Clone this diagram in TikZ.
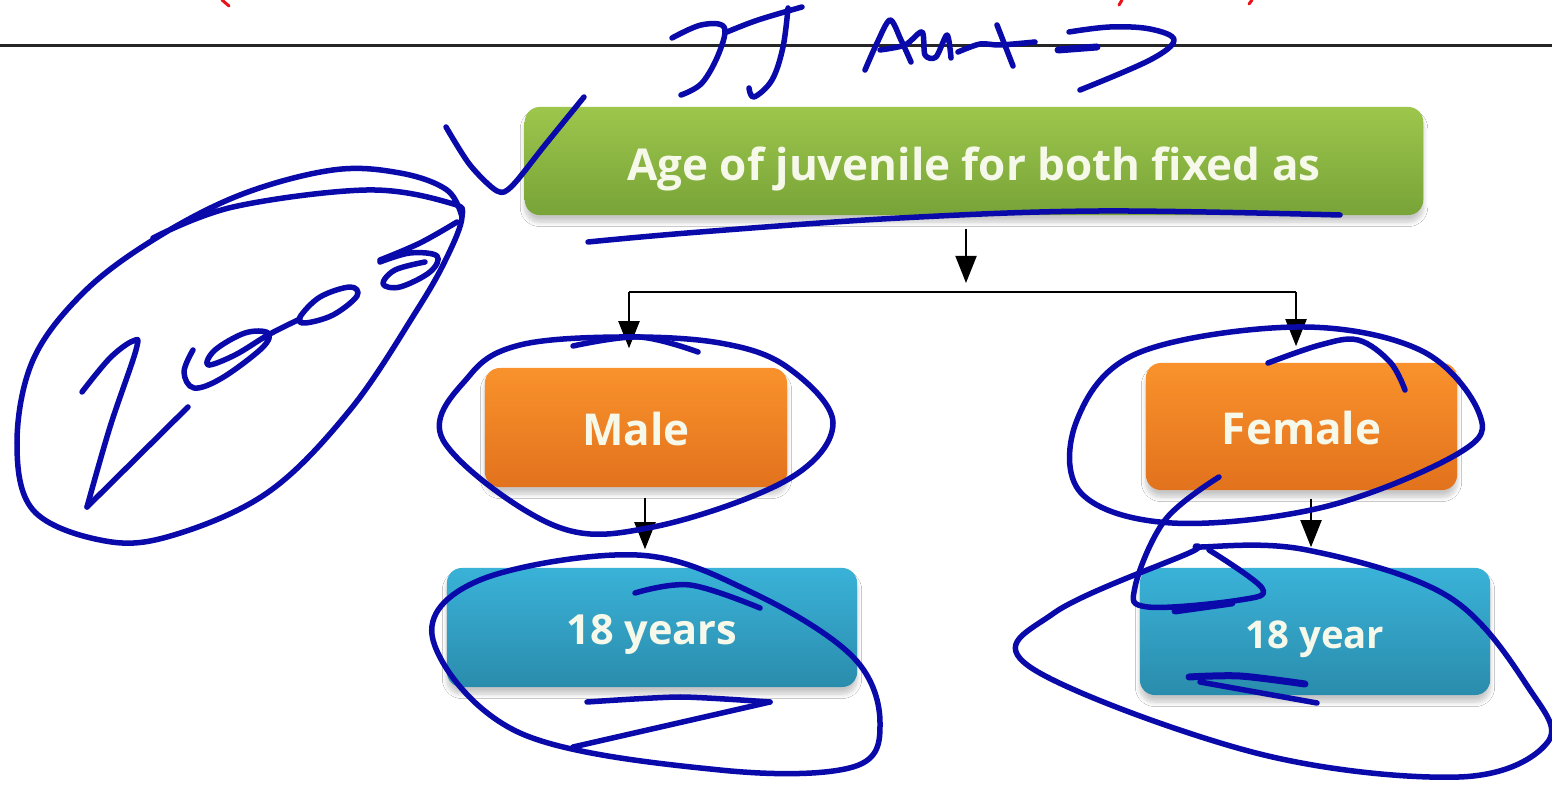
\documentclass[tikz,border=0pt]{standalone}
\usepackage{fontspec}
\setmainfont{Open Sans}
\usetikzlibrary{arrows.meta,shadows.blur}
\definecolor{ink}{HTML}{0A0AAA}
\definecolor{gtop}{HTML}{9DC64C}
\definecolor{gbot}{HTML}{78A438}
\definecolor{otop}{HTML}{F9922C}
\definecolor{obot}{HTML}{E2721D}
\definecolor{btop}{HTML}{3AB2D8}
\definecolor{bbot}{HTML}{2A8CAC}
\definecolor{txt}{HTML}{F6F8EA}
\definecolor{redink}{HTML}{E8141C}
\tikzset{
  box/.style={rounded corners=0.15cm, draw=none, text=txt, text depth=0cm,
    font=\bfseries\fontsize{12.5}{15}\selectfont,
    blur shadow={shadow xshift=0cm, shadow yshift=-0.07cm, shadow blur radius=0.045cm, shadow blur steps=10, shadow opacity=22}},
  greenbox/.style={box, top color=gtop, bottom color=gbot, text height=0.38cm},
  orangebox/.style={box, top color=otop, bottom color=obot, text height=0.36cm},
  bluebox/.style={box, top color=btop, bottom color=bbot, text height=0.34cm},
  conn/.style={line width=0.02cm, black},
  arr/.style={conn, -{Triangle[width=0.21cm,length=0.27cm]}},
  pen/.style={draw=ink, line width=0.055cm, line cap=round, line join=round},
  redpen/.style={draw=redink, line width=0.03cm, line cap=round}
}
\begin{document}
\begin{tikzpicture}[x=0.01cm,y=-0.01cm]
\useasboundingbox (0,0) rectangle (1552,789);
\fill[white] (0,0) rectangle (1552,789);

% header remnants
\draw[redpen] (222,0) -- (229,6);
\draw[redpen] (1122,0) -- (1119,5);
\draw[redpen] (1252,0) -- (1249,4);
\draw[line width=0.03cm, black!85] (0,46) -- (1552,46);

% boxes
\node[greenbox, minimum width=8.98cm, minimum height=1.08cm] (green) at (974,161) {Age of juvenile for both fixed as};
\node[orangebox, minimum width=3.02cm, minimum height=1.19cm] (male) at (636,427.5) {Male};
\node[orangebox, minimum width=3.11cm, minimum height=1.27cm] (female) at (1301.5,426.5) {Female};
\node[bluebox, minimum width=4.10cm, minimum height=1.19cm, font=\bfseries\fontsize{11.8}{14}\selectfont] (yrs) at (652,627.5) {18 years};
\node[bluebox, minimum width=3.50cm, minimum height=1.27cm, font=\bfseries\fontsize{10.9}{13}\selectfont, text height=0.33cm] (yr) at (1315,631.5) {18 year};

% connectors
\coordinate (jm) at (966,292);
\coordinate (jl) at (629,292);
\coordinate (jr) at (1296,292);
\coordinate (mx) at (645,0);
\coordinate (fx) at (1311,0);
\draw[conn] (jl) -- (jr);
\draw[arr, shorten <=0.13cm, shorten >=0.09cm] (green.south -| jm) -- (jm);
\draw[arr, shorten >=0.19cm] (jl) -- (jl |- male.north);
\draw[arr, shorten >=0.16cm] (jr) -- (jr |- female.north);
\draw[arr, shorten <=0.1cm, shorten >=0.18cm] (male.south -| mx) -- (yrs.north -| mx);
\draw[arr, shorten <=0.08cm, shorten >=0.2cm] (female.south -| fx) -- (yr.north -| fx);

% handwriting: JJ Au =>
\draw[pen] plot[smooth, tension=0.6] coordinates {(672,38) (701,25) (724,27) (719,53) (702,83) (681,95)};
\draw[pen] plot[smooth, tension=0.6] coordinates {(727,32) (758,20) (802,7)};
\draw[pen] plot[smooth, tension=0.6] coordinates {(788,8) (783,47) (772,80) (754,97) (749,88)};
\draw[pen] plot[smooth, tension=0.5] coordinates {(865,70) (877,43) (890,20) (901,40) (911,62)};
\draw[pen] plot[smooth, tension=0.5] coordinates {(880,50) (905,45) (922,32) (925,55) (936,57) (947,35) (951,58)};
\draw[pen] plot[smooth, tension=0.5] coordinates {(958,52) (980,44) (1000,45) (1035,42)};
\draw[pen] (997,25) -- (1013,66);
\draw[pen] plot[smooth, tension=0.6] coordinates {(1069,32) (1110,27) (1150,29) (1174,40) (1150,60) (1080,90)};
\draw[pen, line width=0.07cm] (1058,50) -- (1097,47);

% check mark
\draw[pen] plot[smooth, tension=0.5] coordinates {(446,127) (470,165) (497,191) (512,186) (545,145) (584,97)};

% 2008 with ellipse
\draw[pen] plot[smooth, tension=0.6] coordinates {(153,238) (233,207) (367,190) (450,203) (462,217) (447,257) (417,310) (350,410) (267,493) (167,537) (100,540) (33,510) (17,443) (33,360) (83,293) (153,240) (240,195) (333,170) (400,173) (447,190) (462,217)};
\draw[pen] plot[smooth, tension=0.6] coordinates {(82,392) (110,358) (133,341) (136,350) (110,427) (87,507)};
\draw[pen] (87,507) -- (188,407);
\draw[pen] plot[smooth, tension=0.6] coordinates {(193,350) (184,372) (194,388) (222,378) (262,348) (268,333) (245,333) (215,350) (208,365) (235,355) (268,335) (300,319)};
\draw[pen] plot[smooth cycle, tension=0.6] coordinates {(300,317) (320,297) (350,287) (357,296) (333,315) (305,323)};
\draw[pen] plot[smooth, tension=0.6] coordinates {(380,262) (410,253) (437,256) (430,272) (400,287) (383,284) (395,270) (425,262)};
\draw[pen] plot[smooth, tension=0.6] coordinates {(380,260) (420,243) (457,222)};

% green underline
\draw[pen] plot[smooth, tension=0.6] coordinates {(588,242) (700,232) (900,218) (1100,211) (1340,215)};

% Male loop
\draw[pen] plot[smooth cycle, tension=0.6] coordinates {(620,337) (720,343) (787,367) (833,423) (787,480) (653,527) (553,525) (443,440) (470,375) (520,345)};
\draw[pen] plot[smooth, tension=0.6] coordinates {(573,346) (639,337) (698,352)};

% 18 years loop
\draw[pen] plot[smooth cycle, tension=0.6] coordinates {(637,555) (753,593) (853,657) (880,723) (853,767) (720,770) (520,733) (433,640) (480,580)};
\draw[pen] plot[smooth, tension=0.6] coordinates {(635,593) (690,585) (760,608)};
\draw[pen] plot[smooth, tension=0.4] coordinates {(587,702) (680,697) (770,702)};
\draw[pen] (770,702) -- (573,747);

% Female loop
\draw[pen] plot[smooth cycle, tension=0.6] coordinates {(1297,327) (1420,350) (1479,413) (1459,453) (1324,507) (1172,523) (1081,493) (1077,420) (1138,353)};
\draw[pen] plot[smooth, tension=0.6] coordinates {(1268,363) (1320,345) (1358,340) (1390,362) (1405,390)};
\draw[pen] plot[smooth, tension=0.6] coordinates {(1219,477) (1165,520) (1135,587) (1148,607) (1240,600) (1262,588) (1209,550)};
\draw[pen, line width=0.07cm] (1175,611) -- (1232,603);

% 18 year loop
\draw[pen] plot[smooth cycle, tension=0.6] coordinates {(1202,547) (1307,550) (1449,597) (1530,690) (1547,743) (1459,777) (1256,753) (1030,667) (1054,613) (1189,553)};
\draw[pen, line width=0.07cm] plot[smooth, tension=0.5] coordinates {(1189,677) (1240,676) (1305,684)};
\draw[pen] (1200,682) -- (1317,703);
\end{tikzpicture}
\end{document}
